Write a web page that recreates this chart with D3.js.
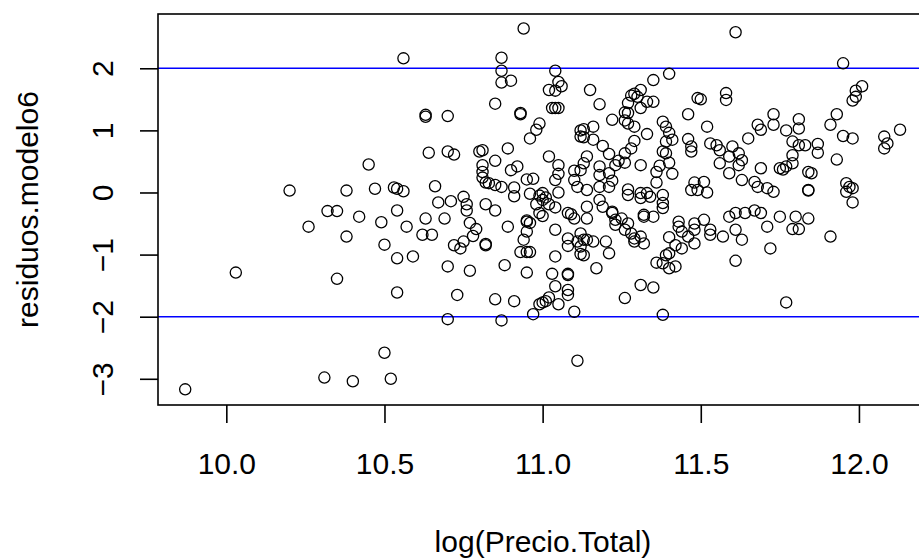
<!DOCTYPE html>
<html>
<head>
<meta charset="utf-8">
<script src="https://cdn.jsdelivr.net/npm/d3@7"></script>
<style>
 body { margin: 0; background: #fff; }
 svg text { font-family: "Liberation Sans", Arial, sans-serif; font-size: 30px; fill: #000; }
 .tick line { stroke: #000; stroke-width: 1.6; }
 .box { fill: none; stroke: #000; stroke-width: 1.6; }
 .ref-line { stroke: #0000ff; stroke-width: 1.6; }
 .pt { fill: none; stroke: #000; stroke-width: 1.3; }
</style>
</head>
<body>
<div id="chart"></div>
<script>
// residuos del modelo 6 contra log(Precio.Total)
var logPrecio = [
 9.87, 10.03, 10.20, 10.26, 10.31, 10.32, 10.35, 10.35, 10.38, 10.38,
 10.40, 10.42, 10.45, 10.47, 10.49, 10.50, 10.50, 10.52, 10.53, 10.54,
 10.56, 10.54, 10.54, 10.54, 10.56, 10.57, 10.59, 10.63, 10.63, 10.70,
 10.64, 10.70, 10.72, 10.66, 10.67, 10.63, 10.69, 10.62, 10.65, 10.71,
 10.75, 10.76, 10.76, 10.77, 10.79, 10.78, 10.82, 10.82, 10.75, 10.72,
 10.74, 10.70, 10.77, 10.73, 10.70, 10.82, 10.85, 10.89, 10.88, 10.85,
 10.91, 10.87, 10.80, 10.81, 10.85, 10.89, 10.81, 10.81, 10.81, 10.82,
 10.83, 10.85, 10.87, 10.90, 10.92, 10.91, 10.91, 10.95, 10.97, 10.96,
 10.99, 11.00, 11.00, 10.98, 10.99, 11.00, 10.95, 10.95, 10.96, 10.95,
 10.94, 10.93, 10.95, 10.96, 10.95, 10.93, 10.93, 10.94, 10.87, 10.87,
 10.87, 10.90, 10.85, 11.04, 11.05, 11.06, 11.02, 11.04, 11.03, 11.04,
 11.05, 10.99, 10.98, 10.96, 11.12, 11.12, 11.02, 11.05, 11.05, 11.04,
 11.10, 11.05, 11.01, 11.02, 11.04, 11.09, 11.10, 11.04, 11.08, 11.11,
 11.08, 11.12, 11.04, 11.03, 11.08, 11.08, 11.04, 11.08, 11.08, 11.02,
 11.00, 11.01, 10.99, 11.05, 11.10, 10.97, 11.11, 11.08, 11.61, 11.15,
 11.18, 11.22, 11.13, 11.16, 11.13, 11.16, 11.19, 11.21, 11.35, 11.40,
 11.31, 11.29, 11.30, 11.33, 11.35, 11.27, 11.31, 11.27, 11.27, 11.29,
 11.33, 11.29, 11.28, 11.26, 11.26, 11.23, 11.21, 11.18, 11.18, 11.14,
 11.13, 11.12, 11.11, 11.14, 11.18, 11.21, 11.18, 11.19, 11.22, 11.14,
 11.14, 11.23, 11.25, 11.27, 11.26, 11.28, 11.29, 11.31, 11.32, 11.29,
 11.23, 11.20, 11.21, 11.17, 11.12, 11.13, 11.12, 11.13, 11.26, 11.31,
 11.35, 11.38, 11.31, 11.36, 11.36, 11.27, 11.27, 11.31, 11.33, 11.31,
 11.34, 11.38, 11.38, 11.38, 11.32, 11.35, 11.38, 11.39, 11.40, 11.41,
 11.39, 11.38, 11.39, 11.40, 11.41, 11.46, 11.52, 11.46, 11.47, 11.47,
 11.50, 11.49, 11.58, 11.58, 11.53, 11.55, 11.56, 11.60, 11.56, 11.59,
 11.62, 11.65, 11.68, 11.59, 11.63, 11.67, 11.62, 11.48, 11.47, 11.49,
 11.51, 11.52, 11.43, 11.43, 11.40, 11.42, 11.44, 11.39, 11.36, 11.38,
 11.40, 11.42, 11.46, 11.48, 11.48, 11.51, 11.53, 11.53, 11.57, 11.48,
 11.59, 11.61, 11.64, 11.67, 11.61, 11.63, 11.61, 11.95, 12.01, 11.99,
 11.99, 11.98, 11.93, 11.91, 11.95, 11.98, 11.93, 12.13, 12.08, 12.09,
 12.08, 11.73, 11.69, 11.73, 11.77, 11.81, 11.81, 11.79, 11.81, 11.83,
 11.87, 11.87, 11.79, 11.79, 11.77, 11.75, 11.76, 11.84, 11.85, 11.84,
 11.84, 11.96, 11.97, 11.98, 11.96, 11.98, 11.63, 11.69, 11.68, 11.71,
 11.73, 11.69, 11.71, 11.75, 11.80, 11.84, 11.79, 11.81, 11.72, 11.91,
 11.77, 11.28, 11.26, 11.26, 11.24, 11.22, 11.10, 11.37, 11.16, 11.14,
 11.22, 11.44, 11.40, 11.32
];
var residuos = [
 -3.17, -1.29, 0.03, -0.55, -2.98, -0.30, -0.30, -1.39, 0.03, -0.71,
 -3.04, -0.39, 0.45, 0.06, -0.48, -0.84, -2.58, -3.00, 0.08, 0.06,
 0.02, -0.29, -1.06, -1.61, 2.16, -0.55, -1.03, 1.25, 1.22, 1.23,
 0.64, 0.66, 0.61, 0.10, -0.16, -0.42, -0.42, -0.68, -0.68, -0.14,
 -0.07, -0.19, -0.29, -0.49, -0.59, -0.70, -0.85, -0.83, -0.79, -0.85,
 -0.90, -1.19, -1.26, -1.65, -2.04, -0.19, -0.29, -0.55, -1.17, -1.72,
 -1.75, -2.06, 0.66, 0.68, 0.51, 0.71, 0.44, 0.33, 0.24, 0.16,
 0.15, 0.12, 0.09, 0.36, 0.42, 0.08, -0.06, 0.21, 0.22, -0.02,
 -0.05, -0.01, -0.12, -0.19, -0.33, -0.38, -0.47, -0.45, -0.49, -0.63,
 -0.76, -0.96, -0.96, -0.96, -1.29, 1.28, 1.26, 2.64, 2.17, 1.96,
 1.77, 1.80, 1.43, 1.96, 1.78, 1.71, 1.65, 1.64, 1.36, 1.36,
 1.36, 1.11, 1.01, 0.87, 1.00, 0.90, 0.58, 0.44, 0.30, 0.20,
 0.20, 0.00, -0.08, -0.19, -0.24, -0.35, -0.42, -0.60, -0.74, -0.79,
 -0.86, -0.99, -1.03, -1.31, -1.31, -1.33, -1.51, -1.57, -1.65, -1.69,
 -1.77, -1.75, -1.80, -1.80, -1.92, -1.96, -2.71, -0.33, 2.58, 1.65,
 1.42, 1.17, 1.02, 1.06, 0.89, 0.85, 0.75, 0.62, 1.81, 1.91,
 1.65, 1.59, 1.54, 1.46, 1.46, 1.44, 1.36, 1.28, 1.11, 1.06,
 0.94, 0.83, 0.71, 0.63, 0.48, 0.44, 0.31, 0.42, 0.28, 0.58,
 0.47, 0.36, 0.09, 0.04, 0.09, 0.09, -0.12, -0.23, -0.31, -0.23,
 -0.42, -0.44, -0.42, -0.50, -0.60, -0.66, -0.74, -0.71, -0.82, -0.79,
 -0.52, -0.79, -0.98, -1.22, -0.66, -0.76, -0.87, -1.01, -1.70, -1.49,
 -1.53, -1.97, 0.44, 0.33, 0.16, 0.05, -0.04, -0.01, -0.01, -0.09,
 -0.07, -0.04, -0.17, -0.25, -0.39, -0.39, 1.14, 1.06, 0.96, 0.85,
 0.82, 0.66, 0.63, 0.48, 0.30, 1.26, 1.06, 0.86, 0.74, 0.66,
 1.50, 1.52, 1.60, 1.49, 0.79, 0.76, 0.68, 0.74, 0.47, 0.58,
 0.63, 0.87, 1.09, 0.31, 0.20, 0.17, 0.44, 0.16, 0.04, 0.04,
 0.17, 0.00, -0.47, -0.55, -0.72, -0.85, -0.90, -1.01, -1.13, -1.14,
 -1.22, -1.19, -0.71, -0.50, -0.60, -0.44, -0.60, -0.68, -0.71, -0.82,
 -0.39, -0.33, -0.33, -0.29, -0.60, -0.76, -1.10, 2.08, 1.71, 1.64,
 1.54, 1.48, 1.26, 1.09, 0.91, 0.87, 0.53, 1.01, 0.90, 0.79,
 0.71, 1.26, 1.01, 1.09, 1.00, 1.18, 1.03, 0.82, 0.76, 0.76,
 0.78, 0.64, 0.60, 0.47, 0.42, 0.39, 0.37, 0.33, 0.31, 0.03,
 0.04, 0.15, 0.09, 0.07, 0.01, -0.16, 0.52, 0.39, 0.09, 0.07,
 0.01, -0.33, -0.55, -0.39, -0.39, -0.42, -0.59, -0.59, -0.90, -0.71,
 -1.77, 1.56, 1.29, 1.16, 0.51, 0.19, 0.35, 0.43, -0.79, -0.76,
 -0.33, -0.63, -0.98, -0.36
];
var xTicks = [10.0, 10.5, 11.0, 11.5, 12.0];
var yTicks = [-3, -2, -1, 0, 1, 2];
var refLines = [2, -2];   // abline(h = c(-2, 2), col = "blue")

var width = 919;
var height = 559;
var margin = { top: 14, right: -13, bottom: 154, left: 158 };  // right edge of the box falls off the page

var svg = d3.select("#chart")
    .append("svg")
    .attr("width", width)
    .attr("height", height);

var x = d3.scaleLinear()
    .domain([9.784, 12.231])
    .range([margin.left, width - margin.right]);

var y = d3.scaleLinear()
    .domain([-3.422, 2.874])
    .range([height - margin.bottom, margin.top]);

// horizontal reference lines
svg.selectAll(".ref-line")
    .data(refLines)
    .enter()
    .append("line")
    .attr("class", "ref-line")
    .attr("x1", margin.left)
    .attr("x2", width - margin.right)
    .attr("y1", function(d) { return y(d); })
    .attr("y2", function(d) { return y(d); });

// points (pch = 1)
svg.selectAll(".pt")
    .data(logPrecio)
    .enter()
    .append("circle")
    .attr("class", "pt")
    .attr("cx", function(d) { return x(d); })
    .attr("cy", function(d, i) { return y(residuos[i]); })
    .attr("r", 5.6);

// box
svg.append("rect")
    .attr("class", "box")
    .attr("x", margin.left)
    .attr("y", margin.top)
    .attr("width", x.range()[1] - margin.left)
    .attr("height", y.range()[0] - margin.top);

// x axis
var xAxis = svg.append("g")
    .attr("transform", "translate(0," + (height - margin.bottom) + ")")
    .call(d3.axisBottom(x).tickValues(xTicks).tickFormat(d3.format(".1f")).tickSize(18));
xAxis.select(".domain").remove();
xAxis.selectAll("text")
    .attr("y", 69)
    .attr("dy", null)
    .attr("fill", "#000");

// y axis, labels parallel to the axis
var yAxis = svg.append("g")
    .attr("transform", "translate(" + margin.left + ",0)")
    .call(d3.axisLeft(y).tickValues(yTicks).tickFormat(d3.format("d")).tickSize(18));
yAxis.select(".domain").remove();
yAxis.selectAll("text")
    .attr("x", 0)
    .attr("y", -45)
    .attr("dy", null)
    .attr("text-anchor", "middle")
    .attr("transform", "rotate(-90)")
    .attr("fill", "#000");

// axis titles
svg.append("text")
    .attr("x", 543)
    .attr("y", 552)
    .attr("text-anchor", "middle")
    .text("log(Precio.Total)");

svg.append("text")
    .attr("transform", "translate(38," + ((margin.top + height - margin.bottom) / 2) + ") rotate(-90)")
    .attr("text-anchor", "middle")
    .text("residuos.modelo6");
</script>
</body>
</html>
